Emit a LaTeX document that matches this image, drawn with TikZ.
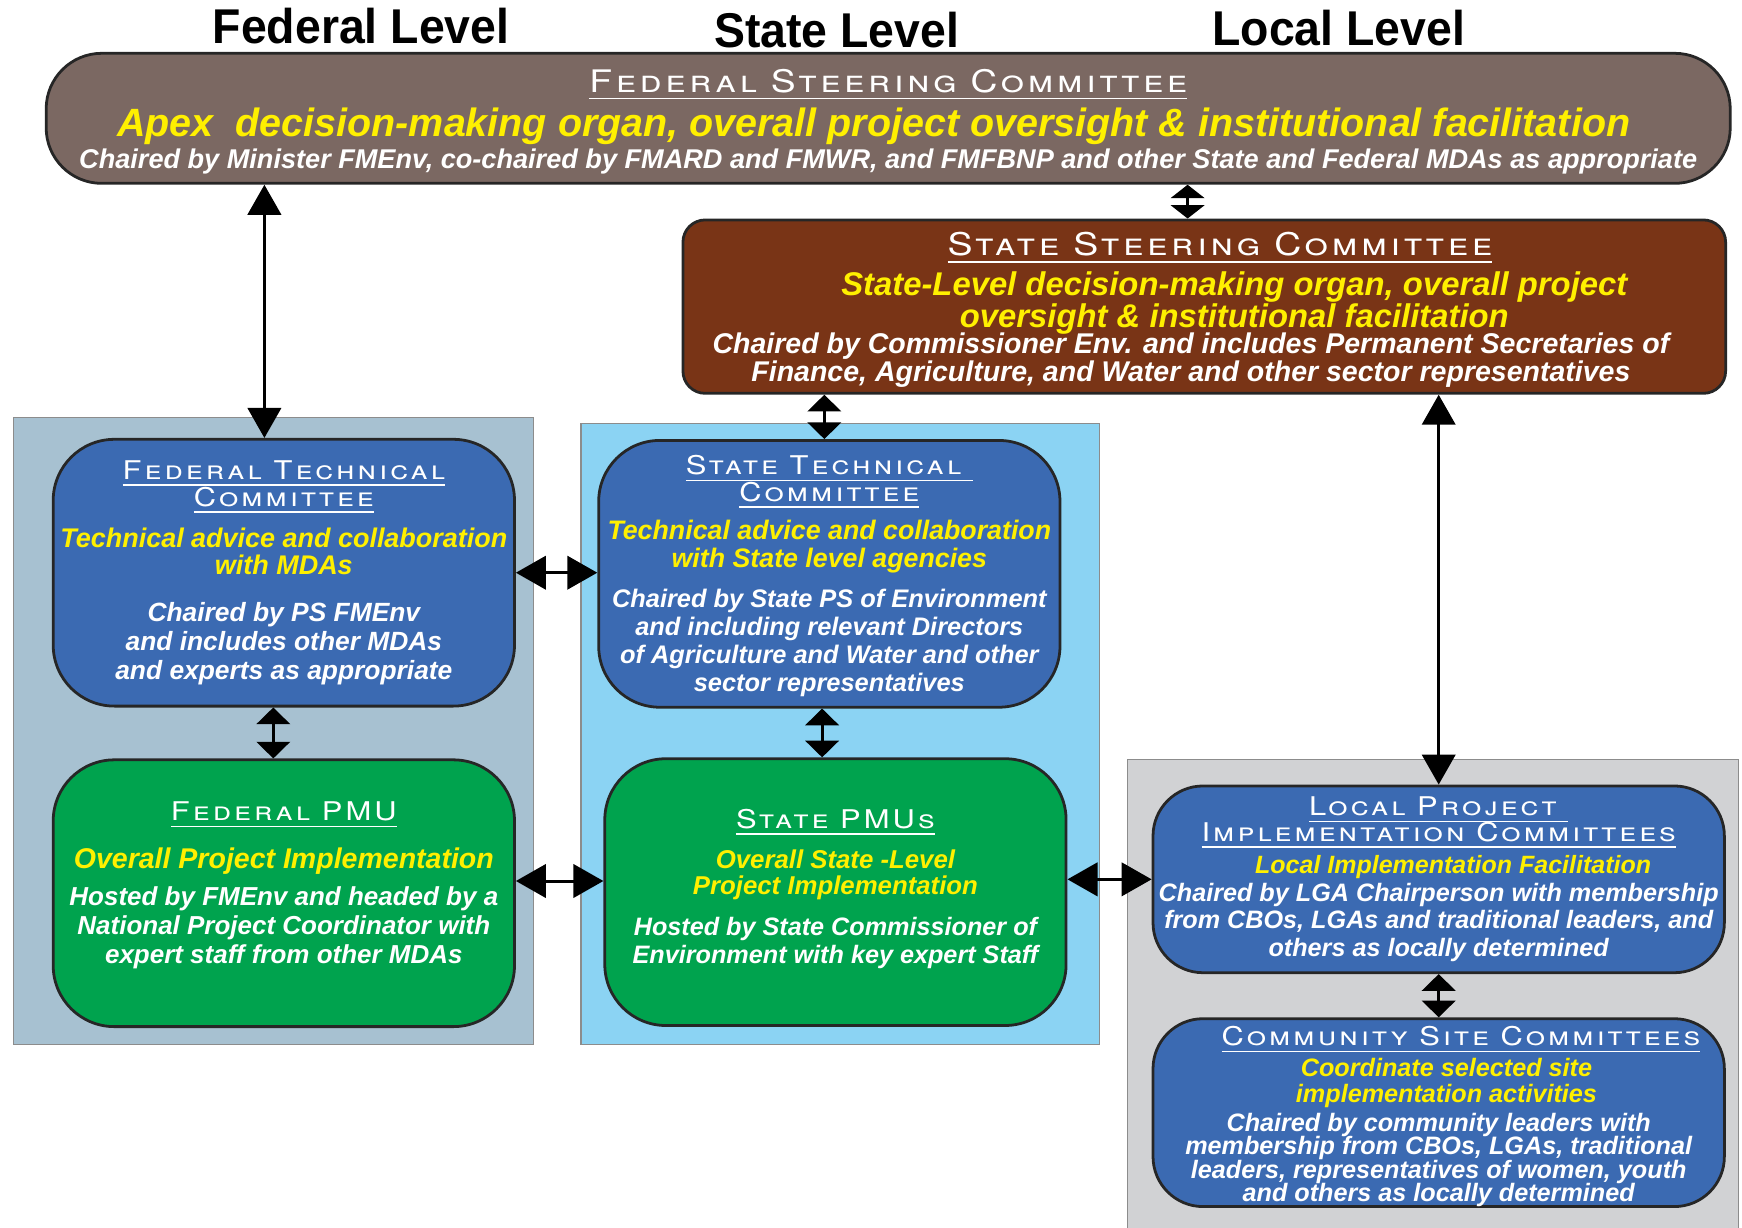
\documentclass[tikz,border=0pt]{standalone}
\usepackage{fontspec}
\usetikzlibrary{arrows.meta}
\setmainfont{Liberation Sans}
\newfontfamily\levelfont[FakeStretch=0.95]{Liberation Sans}
\newfontfamily\capfont[FakeStretch=1.2,LetterSpace=12]{TeX Gyre Heros}
\definecolor{fscbrown}{RGB}{123,104,98}
\definecolor{sscbrown}{RGB}{121,52,22}
\definecolor{boxblue}{RGB}{59,106,178}
\definecolor{boxgreen}{RGB}{0,163,78}
\definecolor{fedbg}{RGB}{167,193,209}
\definecolor{statebg}{RGB}{139,211,243}
\definecolor{localbg}{RGB}{209,210,212}
\definecolor{txtyellow}{RGB}{255,240,0}
\newcommand{\undl}[1]{\underline{#1}}
\newcommand{\padrule}[1]{\hrule height #1 depth 0pt width 0pt}
\newcommand{\ttlf}[2]{\capfont\scshape\fontsize{#1}{#2}\selectfont\color{white}\lineskiplimit=-20pt}
\newcommand{\yelf}[2]{\bfseries\itshape\fontsize{#1}{#2}\selectfont\color{txtyellow}\lineskiplimit=-20pt}
\newcommand{\whtf}[2]{\bfseries\itshape\fontsize{#1}{#2}\selectfont\color{white}\lineskiplimit=-20pt}
\begin{document}
\begin{tikzpicture}[x=0.01cm, y=-0.01cm,
    level/.style={font=\levelfont\bfseries\fontsize{12.5pt}{14pt}\selectfont},
    box/.style={draw=black!85, line width=0.025cm, inner sep=0pt, align=flush center},
    bigbox/.style={box, rounded corners=0.55cm, minimum width=4.15cm, minimum height=2.4cm, text width=4.12cm},
    localbox/.style={box, fill=boxblue, rounded corners=0.45cm, minimum width=5.14cm, minimum height=1.68cm, text width=5.12cm},
    bgbox/.style={draw=black!45, line width=0.01cm},
    longarrow/.style={{Triangle[width=0.3cm,length=0.27cm]}-{Triangle[width=0.3cm,length=0.27cm]}, line width=0.027cm},
    shortarrow/.style={{Triangle[width=0.3cm,length=0.15cm]}-{Triangle[width=0.3cm,length=0.15cm]}, line width=0.027cm},
    tinyarrow/.style={{Triangle[width=0.3cm,length=0.12cm]}-{Triangle[width=0.3cm,length=0.12cm]}, line width=0.027cm}]
    \fill[white] (0,0) rectangle (1568,1105);
    \useasboundingbox (0,0) rectangle (1568,1105);

    % level headings
    \node[level] (fedlevel) at (325,23) {Federal Level};
    \node[level] (statelevel) at (753,27) {State Level};
    \node[level] (locallevel) at (1205,25) {Local Level};

    % column backgrounds
    \draw[bgbox, fill=fedbg] (12,376) rectangle (480,940);
    \draw[bgbox, fill=statebg] (523,381) rectangle (990,940);
    \draw[bgbox, fill=localbg] (1015,684) rectangle (1565,1110);

    % steering committees
    \node[box, fill=fscbrown, rounded corners=0.5cm, minimum width=15.15cm, minimum height=1.17cm, text width=15.1cm] (FSC) at (799.5,106.5) {%
        \padrule{1.7pt}
        {\ttlf{7.95pt}{8pt}\undl{Federal Steering Committee}\par}
        {\yelf{10.1pt}{11.1pt}Apex~ decision-making organ, overall project oversight \& institutional facilitation\hspace*{0.26cm}\par}
        {\whtf{6.94pt}{8.25pt}Chaired by Minister FMEnv, co-chaired by FMARD and FMWR, and FMFBNP and other State and Federal MDAs as appropriate\par}};
    \node[box, fill=sscbrown, rounded corners=0.2cm, minimum width=9.38cm, minimum height=1.56cm, text width=9.3cm] (SSC) at (1084,276) {%
        \padrule{1.7pt}
        {\ttlf{8pt}{8pt}\hspace*{0.28cm}\undl{State Steering Committee}\par}
        \vspace{2.27pt}
        {\yelf{8.4pt}{7.97pt}\hspace*{0.54cm}State-Level decision-making organ, overall project\\\hspace*{0.54cm}oversight \& institutional facilitation\par}
        \vspace{-0.28pt}
        {\whtf{7.3pt}{7.11pt}\hspace*{-0.24cm}Chaired by Commissioner Env. and includes Permanent Secretaries of\\\hspace*{-0.24cm}Finance, Agriculture, and Water and other sector representatives\par}};

    % federal column
    \node[bigbox, fill=boxblue] (FTC) at (255.5,515.5) {%
        {\ttlf{6.6pt}{6.83pt}\undl{Federal Technical}\\\undl{Committee}\par}
        \vspace{3.42pt}
        {\yelf{6.9pt}{7.11pt}Technical advice and collaboration\\with MDAs\par}
        \vspace{4.55pt}
        {\whtf{6.75pt}{7.4pt}Chaired by PS FMEnv\\and includes other MDAs\\and experts as appropriate\par}};
    \node[bigbox, fill=boxgreen] (FPMU) at (255.5,804) {%
        {\ttlf{6.6pt}{6.83pt}\undl{Federal PMU}\par}
        \vspace{4.83pt}
        {\yelf{7.3pt}{7.4pt}Overall Project Implementation\par}
        \vspace{2.27pt}
        {\whtf{6.65pt}{7.4pt}Hosted by FMEnv and headed by a\\National Project Coordinator with\\expert staff from other MDAs\par}
        \padrule{4pt}};

    % state column
    \node[bigbox, fill=boxblue] (STC) at (746.5,516.5) {%
        \padrule{1.1pt}
        {\ttlf{6.6pt}{6.83pt}\undl{State Technical }\\\undl{Committee}\par}
        \vspace{2.27pt}
        {\yelf{6.85pt}{7.4pt}Technical advice and collaboration\\with State level agencies\par}
        \vspace{3.13pt}
        {\whtf{6.5pt}{7.11pt}Chaired by State PS of Environment\\and including relevant Directors\\of Agriculture and Water and other\\sector representatives\par}};
    \node[bigbox, fill=boxgreen] (SPMU) at (752,803) {%
        {\ttlf{6.6pt}{6.83pt}\undl{State PMUs}\par}
        \vspace{3.41pt}
        {\yelf{6.6pt}{6.83pt}Overall State -Level\\Project Implementation\par}
        \vspace{3.42pt}
        {\whtf{6.45pt}{7.11pt}Hosted by State Commissioner of\\Environment with key expert Staff\par}
        \padrule{1.7pt}};

    % local column
    \node[localbox] (LPIC) at (1295,791.5) {%
        {\ttlf{6.6pt}{6.54pt}\undl{Local Project }\\\undl{Implementation Committees}\par}
        {\yelf{6.4pt}{8.25pt}\hspace*{0.26cm}Local Implementation Facilitation\par}
        {\whtf{6.45pt}{7.11pt}Chaired by LGA Chairperson with membership\\from CBOs, LGAs and traditional leaders, and\\others as locally determined\par}};
    \node[localbox] (CSC) at (1295,1001.5) {%
        \padrule{2pt}
        {\ttlf{6.6pt}{6.54pt}\hspace*{0.4cm}\undl{Community Site Committees}\par}
        \vspace{1.43pt}
        {\yelf{6.45pt}{6.54pt}\hspace*{0.14cm}Coordinate selected site\\\hspace*{0.14cm}implementation activities\par}
        \vspace{1.43pt}
        {\whtf{6.45pt}{5.97pt}Chaired by community leaders with\\membership from CBOs, LGAs, traditional\\leaders, representatives of women, youth\\and others as locally determined\par}};

    % connectors
    \draw[longarrow] ([xshift=-0.175cm]FTC.north) -- ([xshift=-0.175cm]FTC.north |- FSC.south);
    \draw[tinyarrow] ([xshift=-0.15cm]SSC.north) -- ([xshift=-0.15cm]SSC.north |- FSC.south);
    \draw[shortarrow] ([xshift=-0.045cm]STC.north) -- ([xshift=-0.045cm]STC.north |- SSC.south);
    \draw[longarrow] (LPIC.north) -- (LPIC.north |- SSC.south);
    \draw[longarrow] (FTC.east) -- (FTC.east -| STC.west);
    \draw[shortarrow] ([xshift=-0.095cm]FTC.south) -- ([xshift=-0.095cm]FTC.south |- FPMU.north);
    \draw[shortarrow] ([xshift=-0.065cm]STC.south) -- ([xshift=-0.065cm]STC.south |- SPMU.north);
    \draw[longarrow] ([yshift=0.11cm]FPMU.east) -- ([yshift=0.11cm]FPMU.east -| SPMU.west);
    \draw[longarrow] (LPIC.west) -- (LPIC.west -| SPMU.east);
    \draw[shortarrow] (LPIC.south) -- (CSC.north);
\end{tikzpicture}
\end{document}
